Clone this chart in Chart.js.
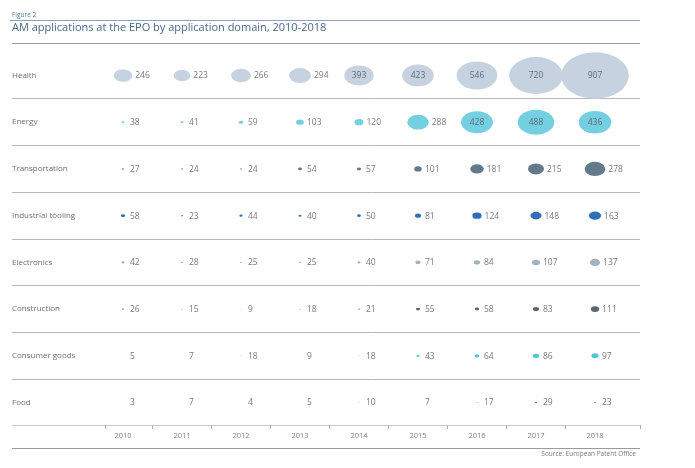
<!DOCTYPE html>
<html>
<head>
<meta charset="utf-8">
<script src="https://cdn.jsdelivr.net/npm/chart.js@4.4.1/dist/chart.umd.min.js"></script>
<style>
  html, body { margin: 0; padding: 0; background: #fff; }
  #wrap { width: 695px; height: 468px; position: relative; }
</style>
</head>
<body>
<div id="wrap"><canvas id="amChart"></canvas></div>
<script>
const years = ['2010', '2011', '2012', '2013', '2014', '2015', '2016', '2017', '2018'];
const domains = ['Health', 'Energy', 'Transportation', 'Industrial tooling', 'Electronics', 'Construction', 'Consumer goods', 'Food'];

const health = [246, 223, 266, 294, 393, 423, 546, 720, 907];
const energy = [38, 41, 59, 103, 120, 288, 428, 488, 436];
const transportation = [27, 24, 24, 54, 57, 101, 181, 215, 278];
const industrialTooling = [58, 23, 44, 40, 50, 81, 124, 148, 163];
const electronics = [42, 28, 25, 25, 40, 71, 84, 107, 137];
const construction = [26, 15, 9, 18, 21, 55, 58, 83, 111];
const consumerGoods = [5, 7, 18, 9, 18, 43, 64, 86, 97];
const food = [3, 7, 4, 5, 10, 7, 17, 29, 23];

const rows = [health, energy, transportation, industrialTooling, electronics, construction, consumerGoods, food];
const rowColors = ['#c6d2e0', '#74cfe0', '#637a8c', '#2f70b9', '#a3b1c2', '#5d6670', '#52c3d8', '#6b6b6b'];

// bubbles in the original are ellipses, wider than tall; radius grows linearly with the count
const STRETCH = 1.45;
const RADIUS_PER_APP = 0.0257;
const FONT = '"Open Sans", sans-serif';

class EllipsePoint extends Chart.PointElement {
    static id = 'ellipsePoint';
    draw(ctx) {
        const o = this.options;
        if (this.skip || o.radius < 0.1) return;
        ctx.save();
        ctx.fillStyle = o.backgroundColor;
        ctx.beginPath();
        ctx.ellipse(this.x, this.y, o.radius * STRETCH, o.radius, 0, 0, Math.PI * 2);
        ctx.fill();
        ctx.restore();
    }
}

class EllipseBubble extends Chart.BubbleController {
    static id = 'ellipseBubble';
    static defaults = Object.assign({}, Chart.BubbleController.defaults, { dataElementType: 'ellipsePoint' });
}

Chart.register(EllipsePoint, EllipseBubble);
Chart.defaults.font.family = FONT;

const X_MIN = -0.305, X_MAX = 8.763;
const Y_MIN = -0.695, Y_MAX = 7.48;

function boundaryTicks(count, min, max) {
    const ticks = [{ value: min }];
    for (let i = 0; i < count; i++) {
        ticks.push({ value: i });
        if (i < count - 1) ticks.push({ value: i + 0.5 });
    }
    ticks.push({ value: max });
    return ticks;
}

const datasets = rows.map((values, r) => ({
    label: domains[r],
    data: values.map((v, i) => ({ x: i, y: r, r: v * RADIUS_PER_APP, v: v })),
    backgroundColor: rowColors[r],
    borderWidth: 0
}));

const valueLabels = {
    id: 'valueLabels',
    afterDatasetsDraw(chart) {
        const ctx = chart.ctx;
        ctx.save();
        ctx.font = '8.5px ' + FONT;
        ctx.textBaseline = 'middle';
        chart.data.datasets.forEach((ds, di) => {
            chart.getDatasetMeta(di).data.forEach((el, i) => {
                const v = ds.data[i].v;
                const rx = el.options.radius * STRETCH;
                if (rx > 13) {
                    ctx.textAlign = 'center';
                    ctx.fillStyle = '#5a6b7c';
                    ctx.fillText(String(v), el.x, el.y + 0.5);
                } else {
                    ctx.textAlign = 'left';
                    ctx.fillStyle = '#7a7a7a';
                    ctx.fillText(String(v), el.x + Math.max(rx + 3, 7), el.y + 0.5);
                }
            });
        });
        ctx.restore();
    }
};

const frame = {
    id: 'frame',
    afterDraw(chart) {
        const ctx = chart.ctx;
        const right = chart.chartArea.right;
        ctx.save();
        ctx.textBaseline = 'middle';
        ctx.fillStyle = '#5f7d99';
        ctx.font = '6.5px ' + FONT;
        ctx.fillText('Figure 2', 12, 15);
        ctx.fillStyle = '#4a6886';
        ctx.font = '11px ' + FONT;
        ctx.fillText('AM applications at the EPO by application domain, 2010-2018', 12, 28);

        ctx.lineWidth = 1;
        ctx.strokeStyle = '#8fa2b5';
        ctx.beginPath(); ctx.moveTo(10, 20.5); ctx.lineTo(right, 20.5); ctx.stroke();
        ctx.strokeStyle = '#9a9a9a';
        ctx.beginPath(); ctx.moveTo(12, 448.5); ctx.lineTo(right, 448.5); ctx.stroke();

        ctx.fillStyle = '#7a7a7a';
        ctx.font = '6.5px ' + FONT;
        ctx.textAlign = 'right';
        ctx.fillText('Source: European Patent Office', 636, 454);
        ctx.restore();
    }
};

new Chart(document.getElementById('amChart'), {
    type: 'ellipseBubble',
    data: { datasets },
    options: {
        responsive: true,
        maintainAspectRatio: false,
        animation: false,
        events: [],
        layout: { padding: { left: 12, right: 55, top: 43, bottom: 20 } },
        plugins: { legend: { display: false }, tooltip: { enabled: false } },
        scales: {
            x: {
                type: 'linear',
                position: 'bottom',
                min: X_MIN,
                max: X_MAX,
                bounds: 'data',
                afterBuildTicks: axis => { axis.ticks = boundaryTicks(years.length, X_MIN, X_MAX); },
                afterFit: axis => { axis.height = 23; },
                border: { display: false },
                grid: {
                    drawOnChartArea: false,
                    tickLength: 4,
                    tickColor: c => Number.isInteger(c.tick.value) ? 'rgba(0,0,0,0)' : '#b0b0b0'
                },
                ticks: {
                    autoSkip: false,
                    maxRotation: 0,
                    padding: 2,
                    color: '#808080',
                    font: { size: 7.5 },
                    callback: v => Number.isInteger(v) ? years[v] : ''
                }
            },
            y: {
                type: 'linear',
                position: 'left',
                reverse: true,
                min: Y_MIN,
                max: Y_MAX,
                bounds: 'data',
                afterBuildTicks: axis => { axis.ticks = boundaryTicks(domains.length, Y_MIN, Y_MAX); },
                afterFit: axis => { axis.width = 93; },
                border: { display: false },
                grid: {
                    tickLength: 93,
                    color: c => {
                        const v = c.tick.value;
                        if (Number.isInteger(v)) return 'rgba(0,0,0,0)';
                        if (v === Y_MIN) return '#999999';
                        if (v === Y_MAX) return '#c8c8c8';
                        return '#b8b8b8';
                    }
                },
                ticks: {
                    autoSkip: false,
                    crossAlign: 'far',
                    color: '#6e6e6e',
                    font: { size: 8 },
                    callback: v => Number.isInteger(v) ? domains[v] : ''
                }
            }
        }
    },
    plugins: [valueLabels, frame]
});
</script>
</body>
</html>
